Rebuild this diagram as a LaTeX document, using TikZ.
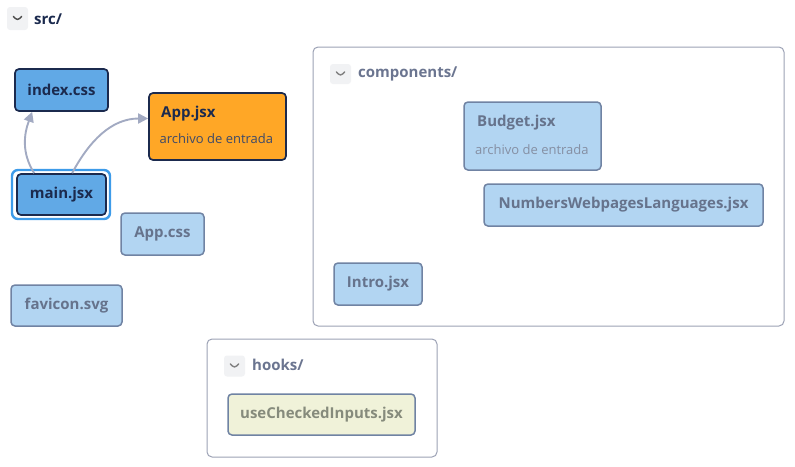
\documentclass[tikz,border=0pt]{standalone}
\usepackage{fontspec}
\setmainfont{Open Sans}
\usetikzlibrary{arrows.meta}
\definecolor{navy}{HTML}{1B2A4E}
\definecolor{mblue}{HTML}{61A9E6}
\definecolor{lblue}{HTML}{B2D5F2}
\definecolor{lborder}{HTML}{7083A3}
\definecolor{gtext}{HTML}{66738C}
\definecolor{orng}{HTML}{FFA726}
\definecolor{olive}{HTML}{F0F2D9}
\definecolor{oltext}{HTML}{868B7C}
\definecolor{fborder}{HTML}{9CA2B5}
\definecolor{chevbg}{HTML}{F1F2F4}
\definecolor{ring}{HTML}{3D9BE9}
\definecolor{edgec}{HTML}{A2AAC2}
\definecolor{flbl}{HTML}{6B7590}
\begin{document}
\begin{tikzpicture}[x=1pt,y=-1pt,
  fbox/.style={draw, rounded corners=4pt, inner sep=0pt, font=\fontsize{15}{17}\selectfont\bfseries},
  darkbox/.style={fbox, fill=mblue, draw=navy, line width=1.7pt, text=navy},
  lightbox/.style={fbox, fill=lblue, draw=lborder, line width=1.5pt, text=gtext},
  folder/.style={draw=fborder, fill=white, rounded corners=5pt, line width=1pt, inner sep=0pt},
  chev/.style={fill=chevbg, rounded corners=3pt, inner sep=0pt,
    path picture={\draw[#1, line width=1.4pt, line cap=round, line join=round]
      ([xshift=-4.2pt,yshift=2.2pt]path picture bounding box.center) --
      ([yshift=-2.2pt]path picture bounding box.center) --
      ([xshift=4.2pt,yshift=2.2pt]path picture bounding box.center);}},
  flabel/.style={anchor=west, inner sep=0pt, font=\fontsize{15}{17}\selectfont\bfseries},
  subtxt/.style={anchor=west, inner sep=0pt, font=\fontsize{13}{15}\selectfont},
  titletxt/.style={anchor=west, inner sep=0pt, font=\fontsize{15}{17}\selectfont\bfseries},
  edge/.style={draw=edgec, line width=1.9pt, -{Triangle[length=10pt,width=10pt]}},
]
\useasboundingbox (0,0) rectangle (795,466);

% containers
\node[folder, minimum width=471pt, minimum height=279pt] (comp) at (548.5,186.5) {};
\node[folder, minimum width=230pt, minimum height=118pt] (hooks) at (322,398) {};

% folder headers
\node[chev=black!70, minimum width=21pt, minimum height=23pt] (srcchev) at (17.5,18.5) {};
\node[flabel, text=navy] (srclbl) at (34,19) {src/};
\node[chev=gray, minimum width=21pt, minimum height=20pt] (compchev) at (340.5,74) {};
\node[flabel, text=flbl] (complbl) at (358,74) {components/};
\node[chev=gray, minimum width=21pt, minimum height=21pt] (hookchev) at (234.5,366) {};
\node[flabel, text=flbl] (hooklbl) at (252,365) {hooks/};

% src files
\node[darkbox, minimum width=93pt, minimum height=42pt] (index) at (61.5,90) {index.css};
\node[draw=ring, line width=2.4pt, rounded corners=6pt, minimum width=98pt, minimum height=49pt, inner sep=0pt] (mainring) at (61,194.5) {};
\node[darkbox, minimum width=89pt, minimum height=41pt] (main) at (61.5,194.5) {main.jsx};
\node[fbox, fill=orng, draw=navy, line width=1.7pt, minimum width=137pt, minimum height=67pt] (app) at (217.5,126.5) {};
\node[titletxt, text=navy] (apptitle) at (161,114) {App.jsx};
\node[subtxt, text=navy!85] (appsub) at (159.5,139) {archivo de entrada};
\node[lightbox, minimum width=83pt, minimum height=42pt] (appcss) at (162.5,234) {App.css};
\node[lightbox, minimum width=111pt, minimum height=41pt] (favicon) at (66.5,305.5) {favicon.svg};

% components
\node[lightbox, minimum width=137pt, minimum height=68pt] (budget) at (532.5,136) {};
\node[titletxt, text=gtext] (budgettitle) at (477,123) {Budget.jsx};
\node[subtxt, text=gtext!80] (budgetsub) at (475,150) {archivo de entrada};
\node[lightbox, minimum width=279pt, minimum height=42pt] (numbers) at (623.5,205) {NumbersWebpagesLanguages.jsx};
\node[lightbox, minimum width=88pt, minimum height=42pt] (intro) at (378,284) {Intro.jsx};

% hooks
\node[fbox, fill=olive, draw=lborder, line width=1.5pt, text=oltext, minimum width=187pt, minimum height=41pt] (usechecked) at (321.5,414.5) {useCheckedInputs.jsx};

% edges
\draw[edge] ([xshift=18pt]main.north west) to[out=122, in=-110] ([xshift=18pt]index.south west);
\draw[edge] ([xshift=56pt]main.north west) to[out=62, in=180] ([yshift=8pt]app.west);
\end{tikzpicture}
\end{document}
